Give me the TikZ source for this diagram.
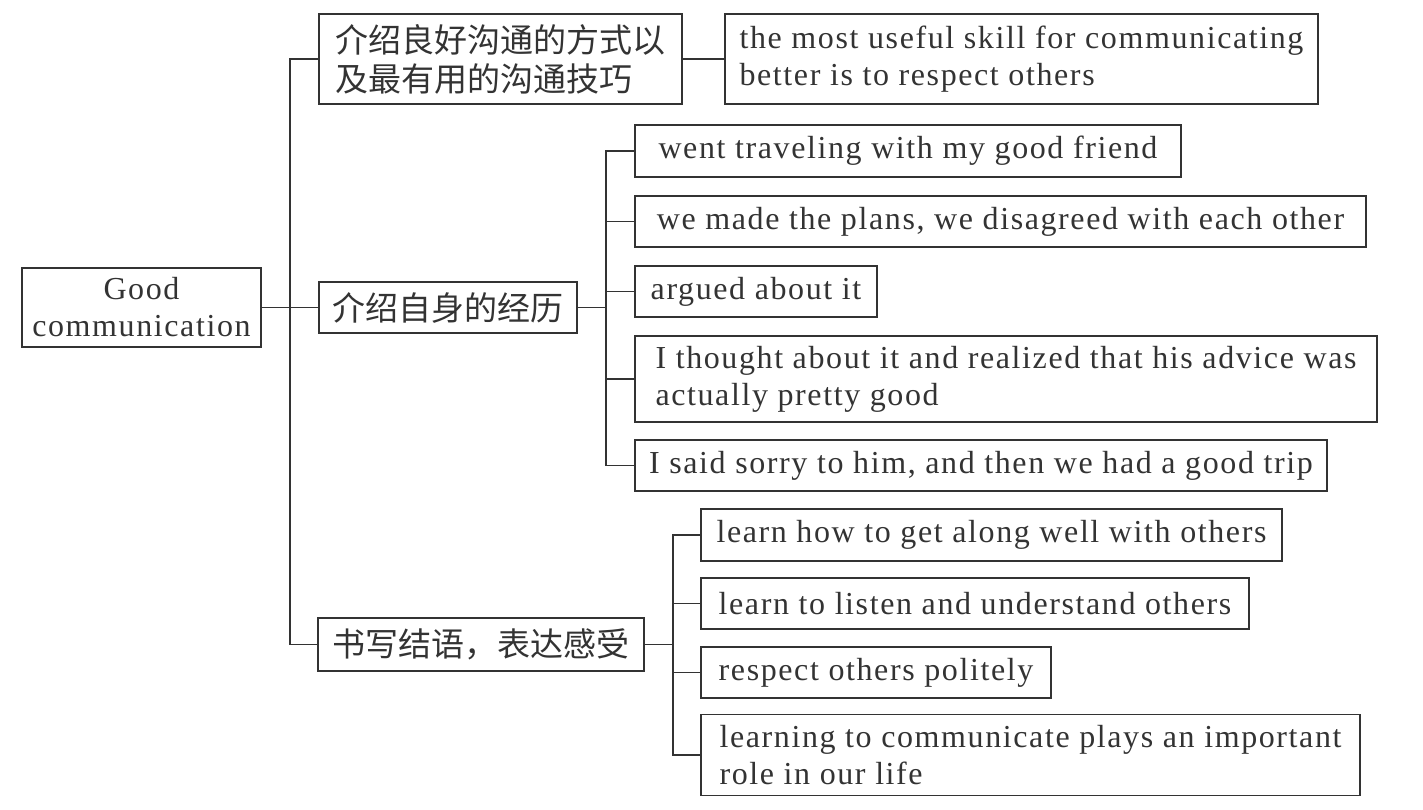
\documentclass[tikz,border=0pt]{standalone}
\usepackage{fontspec}
\setmainfont{Liberation Serif}[LetterSpace=5]
\newfontfamily\cjk{Noto Sans CJK SC}
\definecolor{ink}{HTML}{333333}
\begin{document}
\begin{tikzpicture}[x=1pt,y=-1pt,
  box/.style={draw=ink, line width=1.6pt, inner sep=0pt, align=left, text=ink,
    font=\fontsize{32}{37}\selectfont},
  cbox/.style={box, font=\cjk\fontsize{33}{39}\selectfont},
  link/.style={draw=ink, line width=1.6pt}]
\useasboundingbox (0,0) rectangle (1423,809);
% root
\node[box, align=center, minimum width=239, minimum height=79] (A) at (141.5,307.5) {Good\\communication};
% level 1
\node[cbox, minimum width=363, minimum height=90] (B1) at (500.5,59) {介绍良好沟通的方式以\\及最有用的沟通技巧};
\node[cbox, minimum width=258, minimum height=51] (B2) at (448,307.5) {介绍自身的经历};
\node[cbox, minimum width=326, minimum height=53] (B3) at (481,644.5) {书写结语，表达感受};
% level 2
\node[box, minimum width=593, minimum height=90] (C1) at (1021.5,59) {the most useful skill for communicating\\better is to respect others};
\node[box, minimum width=546, minimum height=52] (D1) at (908,151) {went traveling with my good friend};
\node[box, minimum width=731, minimum height=51] (D2) at (1000.5,221.5) {we made the plans, we disagreed with each other};
\node[box, minimum width=242, minimum height=51] (D3) at (756,291.5) {argued about it};
\node[box, minimum width=742, minimum height=86] (D4) at (1006,379) {I thought about it and realized that his advice was\\actually pretty good};
\node[box, minimum width=692, minimum height=51] (D5) at (981,465.5) {I said sorry to him, and then we had a good trip};
\node[box, minimum width=581, minimum height=52] (E1) at (991.5,535) {learn how to get along well with others};
\node[box, minimum width=548, minimum height=51] (E2) at (975,603.5) {learn to listen and understand others};
\node[box, minimum width=350, minimum height=51] (E3) at (876,672.5) {respect others politely};
\node[box, minimum width=659, minimum height=81] (E4) at (1030.5,755) {learning to communicate plays an important\\role in our life};
% trunks
\coordinate (t1) at (290,307.5);
\coordinate (t2) at (606,307.5);
\coordinate (t3) at (673,644.5);
% connectors
\draw[link] (A.east) -- (B2.west);
\draw[link] (B1.west) -| (t1) |- (B3.west);
\draw[link] (B1.east) -- (C1.west |- B1.east);
\draw[link] (B2.east) -- (t2);
\draw[link] (D1.west) -| (t2) |- (D5.west);
\draw[link] (D2.west) -- (D2.west -| t2);
\draw[link] (D3.west) -- (D3.west -| t2);
\draw[link] (D4.west) -- (D4.west -| t2);
\draw[link] (B3.east) -- (t3);
\draw[link] (E1.west) -| (t3) |- (E4.west);
\draw[link] (E2.west) -- (E2.west -| t3);
\draw[link] (E3.west) -- (E3.west -| t3);
\end{tikzpicture}
\end{document}
